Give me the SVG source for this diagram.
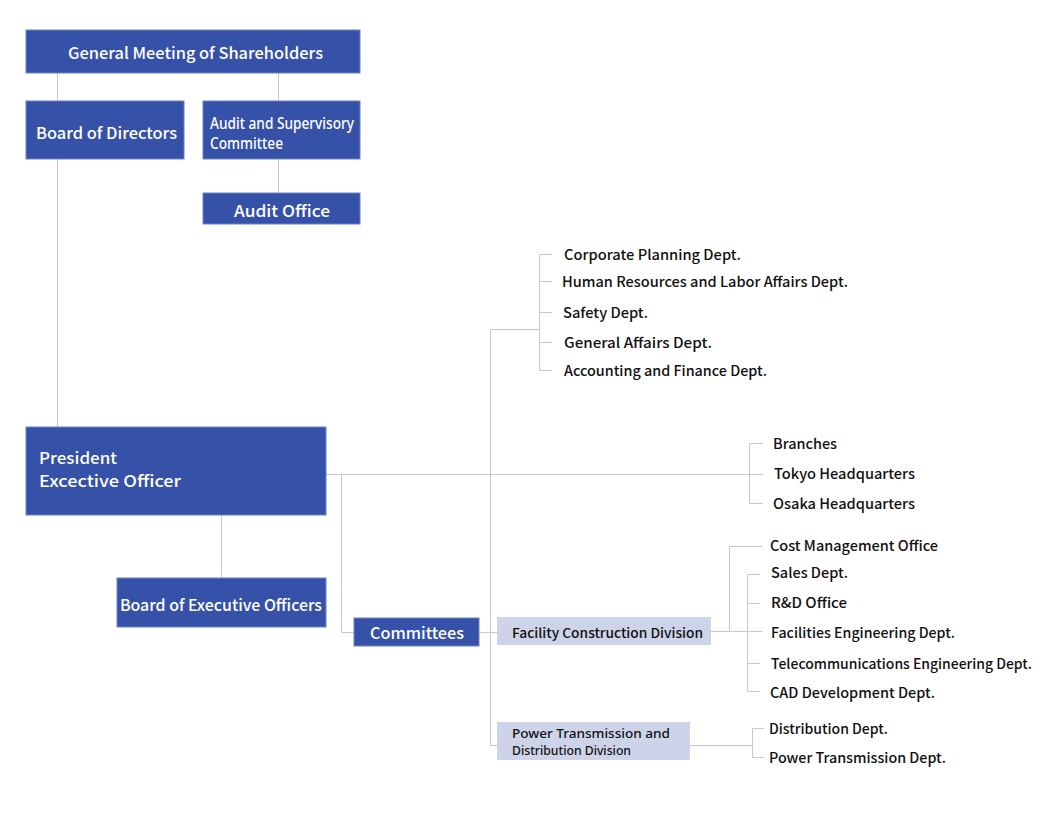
<svg xmlns="http://www.w3.org/2000/svg" width="1040" height="813" viewBox="0 0 1040 813">
<style>
.b{fill:#3651a8;stroke:#6f82c6;stroke-width:1}
.l{fill:#cdd3e8}
.w{fill:#fff;font-family:"Noto Sans CJK JP","Noto Sans",sans-serif;font-weight:500;font-size:16px;dominant-baseline:central}
.d{fill:#111;font-family:"Noto Sans CJK JP","Noto Sans",sans-serif;font-weight:500;font-size:14px;dominant-baseline:central}
.s{fill:#111;font-family:"Noto Sans CJK JP","Noto Sans",sans-serif;font-weight:500;font-size:13px;dominant-baseline:central}
.t{font-family:"Noto Sans",sans-serif;font-weight:500}
#connectors path{fill:none;stroke:#c8c8c8;stroke-width:1}
</style>
<rect width="1040" height="813" fill="#fff"/>
<g id="connectors">
<path d="M57.5 73V101M278.5 73V101M278.5 159V193M57.5 159V427"/>
<path d="M221.5 515V578"/>
<path d="M326 474.5H763M749.5 443.5V503.5M749.5 443.5H763M749.5 503.5H763"/>
<path d="M341.5 474.5V632.5H354M479 632.5H497"/>
<path d="M490.5 329.5V745.5H497M490.5 329.5H539.5"/>
<path d="M539.5 254.5V370.5M539.5 254.5H552M539.5 281.5H552M539.5 312.5H552M539.5 342.5H552M539.5 370.5H552"/>
<path d="M711 631.5H762M729.5 631.5V546.5H762M747.5 574.5V691.5M747.5 574.5H760M747.5 603.5H760M747.5 663.5H760M747.5 691.5H760"/>
<path d="M690 745.5H752.5M752.5 728.5V757.5M752.5 728.5H764M752.5 757.5H764"/>
</g>
<g id="general-meeting"><rect class="b" x="26" y="30" width="334" height="43"/><text class="w" x="68" y="52" textLength="255" lengthAdjust="spacingAndGlyphs">General Meeting of Shareholders</text></g>
<g id="board-of-directors"><rect class="b" x="26" y="101" width="158" height="58"/><text class="w" x="36" y="132" textLength="141" lengthAdjust="spacingAndGlyphs">Board of Directors</text></g>
<g id="audit-committee"><rect class="b" x="203" y="101" width="157" height="58"/><text class="w t" x="210" y="123" font-size="13" textLength="144" lengthAdjust="spacingAndGlyphs">Audit and Supervisory</text><text class="w t" x="210" y="143" font-size="13" textLength="73" lengthAdjust="spacingAndGlyphs">Committee</text></g>
<g id="audit-office"><rect class="b" x="203" y="193" width="157" height="31"/><text class="w" x="234" y="210" textLength="96" lengthAdjust="spacingAndGlyphs">Audit Office</text></g>
<g id="president"><rect class="b" x="26" y="427" width="300" height="88"/><text class="w" x="39" y="457" textLength="78" lengthAdjust="spacingAndGlyphs">President</text><text class="w" x="39" y="480" textLength="142" lengthAdjust="spacingAndGlyphs">Excective Officer</text></g>
<g id="board-exec"><rect class="b" x="117" y="578" width="209" height="49"/><text class="w" x="120" y="604" textLength="202" lengthAdjust="spacingAndGlyphs">Board of Executive Officers</text></g>
<g id="committees"><rect class="b" x="354" y="618" width="125" height="28"/><text class="w" x="370" y="632" textLength="94" lengthAdjust="spacingAndGlyphs">Committees</text></g>
<g id="facility-division"><rect class="l" x="497" y="617" width="214" height="28"/><text class="s" x="512" y="632" textLength="191" lengthAdjust="spacingAndGlyphs">Facility Construction Division</text></g>
<g id="power-division"><rect class="l" x="497" y="722" width="193" height="38"/><text class="s t" x="512" y="733" font-size="12" textLength="158" lengthAdjust="spacingAndGlyphs">Power Transmission and</text><text class="s t" x="512" y="750" font-size="12" textLength="119" lengthAdjust="spacingAndGlyphs">Distribution Division</text></g>
<g id="corporate-planning"><text class="d" x="564" y="254" textLength="177" lengthAdjust="spacingAndGlyphs">Corporate Planning Dept.</text></g>
<g id="human-resources"><text class="d" x="562" y="281" textLength="286" lengthAdjust="spacingAndGlyphs">Human Resources and Labor Affairs Dept.</text></g>
<g id="safety"><text class="d" x="563" y="312" textLength="85" lengthAdjust="spacingAndGlyphs">Safety Dept.</text></g>
<g id="general-affairs"><text class="d" x="564" y="342" textLength="148" lengthAdjust="spacingAndGlyphs">General Affairs Dept.</text></g>
<g id="accounting"><text class="d" x="564" y="370" textLength="203" lengthAdjust="spacingAndGlyphs">Accounting and Finance Dept.</text></g>
<g id="branches"><text class="d" x="773" y="443" textLength="64" lengthAdjust="spacingAndGlyphs">Branches</text></g>
<g id="tokyo"><text class="d" x="774" y="473" textLength="141" lengthAdjust="spacingAndGlyphs">Tokyo Headquarters</text></g>
<g id="osaka"><text class="d" x="773" y="503" textLength="142" lengthAdjust="spacingAndGlyphs">Osaka Headquarters</text></g>
<g id="cost-management"><text class="d" x="770" y="545" textLength="168" lengthAdjust="spacingAndGlyphs">Cost Management Office</text></g>
<g id="sales"><text class="d" x="771" y="572" textLength="77" lengthAdjust="spacingAndGlyphs">Sales Dept.</text></g>
<g id="rd"><text class="d" x="771" y="602" textLength="76" lengthAdjust="spacingAndGlyphs">R&amp;D Office</text></g>
<g id="facilities-eng"><text class="d" x="771" y="632" textLength="184" lengthAdjust="spacingAndGlyphs">Facilities Engineering Dept.</text></g>
<g id="telecom"><text class="d" x="771" y="663" textLength="261" lengthAdjust="spacingAndGlyphs">Telecommunications Engineering Dept.</text></g>
<g id="cad"><text class="d" x="770" y="692" textLength="165" lengthAdjust="spacingAndGlyphs">CAD Development Dept.</text></g>
<g id="distribution"><text class="d" x="769" y="728" textLength="119" lengthAdjust="spacingAndGlyphs">Distribution Dept.</text></g>
<g id="power-transmission"><text class="d" x="769" y="757" textLength="177" lengthAdjust="spacingAndGlyphs">Power Transmission Dept.</text></g>
</svg>
